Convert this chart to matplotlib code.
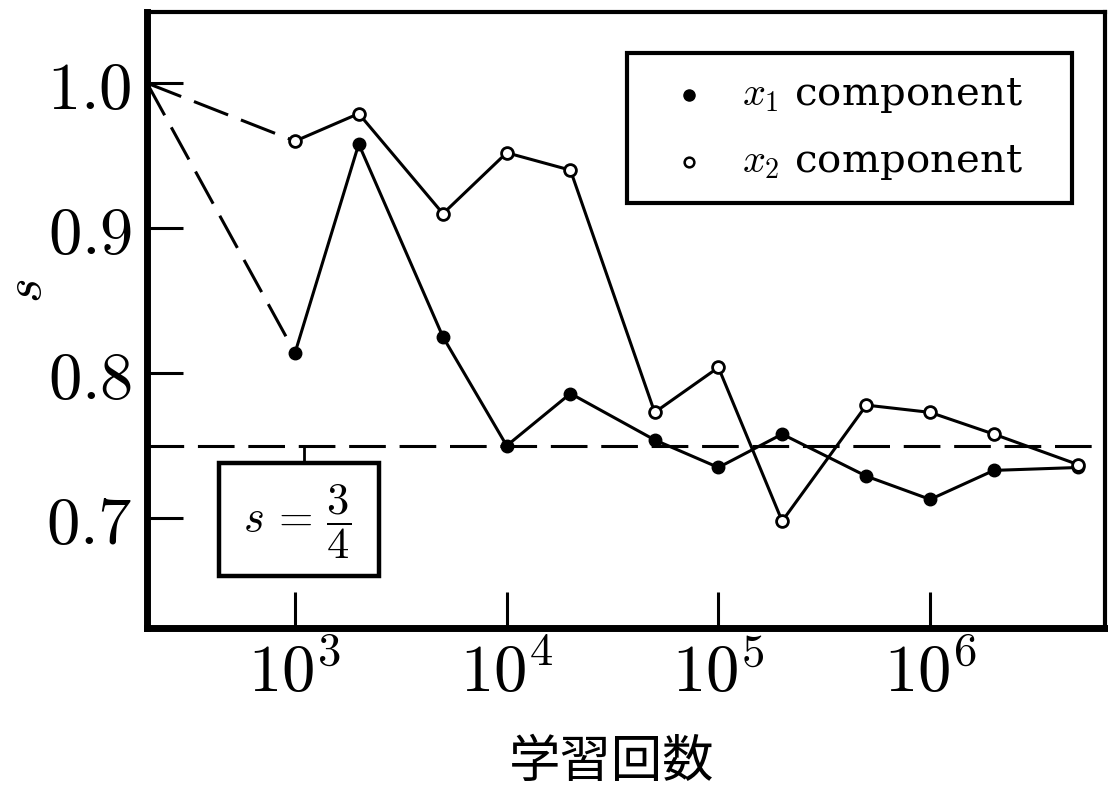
import numpy as np
import matplotlib.pyplot as plt
from matplotlib.patches import Rectangle

plt.rcParams['mathtext.fontset'] = 'cm'
plt.rcParams['font.family'] = ['DejaVu Serif']

# learning steps and the s value of each component
steps = [1e3, 2e3, 5e3, 1e4, 2e4, 5e4, 1e5, 2e5, 5e5, 1e6, 2e6, 5e6]
s_x1 = [0.814, 0.958, 0.825, 0.750, 0.786, 0.754, 0.735, 0.758, 0.729, 0.713, 0.733, 0.735]
s_x2 = [0.960, 0.979, 0.910, 0.952, 0.940, 0.773, 0.804, 0.698, 0.778, 0.773, 0.758, 0.737]
start_step, start_s = 200, 1.0
s_target = 0.75

xticks = [1e3, 1e4, 1e5, 1e6]
xticklabels = [r'$10^3$', r'$10^4$', r'$10^5$', r'$10^6$']
yticks = [0.7, 0.8, 0.9, 1.0]
yticklabels = [r'$0.7$', r'$0.8$', r'$0.9$', r'$1.0$']

fig = plt.figure(figsize=(11.08, 7.93), dpi=100)
ax = fig.add_axes([0.1327, 0.208, 0.8646, 0.7768])
ax.set_xscale('log')
ax.set_xlim(200, 6.7e6)
ax.set_ylim(0.6243, 1.049)

dash = (0, (12, 4.5))
# dashed start from s=1
for s in (s_x1, s_x2):
    ax.plot([start_step, steps[0]], [start_s, s[0]], color='black', lw=2.2, ls=dash)
ax.axhline(s_target, color='black', lw=2.2, ls=dash)

ax.plot(steps, s_x1, color='black', lw=2.2, marker='o', ms=9, mfc='black', mec='black', zorder=3)
ax.plot(steps, s_x2, color='black', lw=2.2, marker='o', ms=8.5, mfc='white', mec='black', mew=2, zorder=3)

# s = 3/4 box and its connector to the dashed line
box_x0, box_x1 = 438, 2490
box_y0, box_y1 = 0.660, 0.738
ax.add_patch(Rectangle((box_x0, box_y0), box_x1 - box_x0, box_y1 - box_y0,
                       fill=False, lw=3.2, ec='black', zorder=4))
ax.plot([1100, 1100], [s_target, box_y1], color='black', lw=2)
ax.text(1020, 0.698, r'$s\,=\,\dfrac{3}{4}$', fontsize=32, ha='center', va='center')

# legend drawn by hand
ax.add_patch(Rectangle((0.501, 0.690), 0.4646, 0.243, transform=ax.transAxes,
                       fill=False, lw=3, ec='black', zorder=4))
ax.plot([0.566], [0.865], 'o', transform=ax.transAxes, ms=8, color='black')
ax.plot([0.566], [0.756], 'o', transform=ax.transAxes, ms=7, mfc='white', mec='black', mew=1.8)
ax.text(0.621, 0.865, r'$x_1$ component', transform=ax.transAxes, fontsize=29, va='center')
ax.text(0.621, 0.756, r'$x_2$ component', transform=ax.transAxes, fontsize=29, va='center')

ax.set_xticks(xticks, labels=xticklabels)
ax.set_yticks(yticks, labels=yticklabels)
ax.xaxis.set_minor_locator(plt.NullLocator())
ax.tick_params(axis='both', direction='in', length=26, width=2.2, labelsize=48)
ax.tick_params(axis='x', pad=9)
ax.tick_params(axis='y', pad=11)

for side in ('left', 'bottom'):
    ax.spines[side].set_linewidth(5)
for side in ('top', 'right'):
    ax.spines[side].set_linewidth(3)

fig.text(26 / 1108, 1 - 291 / 793, r'$s$', fontsize=38, rotation=90, ha='center', va='center')
fig.text(612 / 1108, 1 - 762 / 793, '学習回数', fontsize=37, ha='center', va='center',
         family=['Noto Sans CJK JP', 'DejaVu Sans'])

fig.savefig('out.png', dpi=100)
